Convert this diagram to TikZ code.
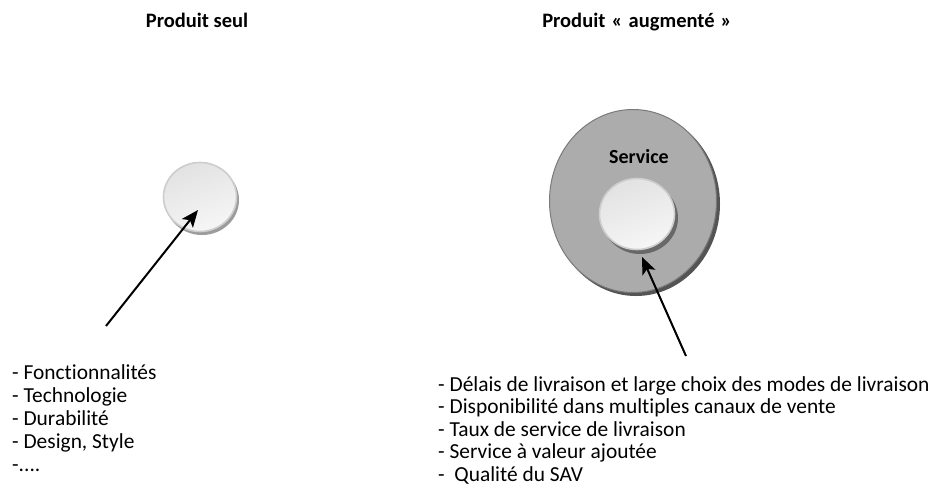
\documentclass[tikz,border=0pt]{standalone}
\usepackage{fontspec}
\setmainfont{Carlito}[Ligatures=NoCommon]
\usetikzlibrary{shapes.geometric,arrows.meta}
\definecolor{facetop}{HTML}{E2E2E2}
\definecolor{facebot}{HTML}{F6F6F6}
\definecolor{facerim}{HTML}{CDCDCD}
\definecolor{lightshadow}{HTML}{9C9C9C}
\definecolor{ringtop}{HTML}{ACACAC}
\definecolor{ringmid}{HTML}{8C8C8C}
\definecolor{ringbot}{HTML}{ABABAB}
\definecolor{ringrim}{HTML}{7A7A7A}
\definecolor{ringshadow}{HTML}{545454}
\definecolor{innershadow}{HTML}{686868}
\begin{document}
\begin{tikzpicture}[x=1pt,y=-1pt,
  heading/.style={font=\fontsize{20.5}{24}\selectfont\bfseries, inner sep=0pt, anchor=base},
  item/.style={font=\fontsize{21.4}{25}\selectfont, anchor=base west, inner sep=0pt},
  lightdisc/.style={ellipse, draw=facerim, line width=1.6pt, inner sep=0pt,
    top color=facetop, bottom color=facebot, shading angle=20},
  ringdisc/.style={ellipse, draw=ringrim, line width=1pt, inner sep=0pt,
    top color=ringtop, middle color=ringmid, bottom color=ringbot},
  pointer/.style={line width=2pt, -{Stealth[length=17pt,width=14pt,inset=4pt]}}]
\useasboundingbox (0,0) rectangle (931,496);

% headings
\node[heading] (h1) at (197,27) {Produit seul};
\node[heading] (h2) at (637,27) {Produit\hspace{0.3em}«\hspace{0.3em}augmenté\hspace{0.3em}»};

% bare product: a single light disc
\fill[lightshadow] (202,200) ellipse [x radius=37pt, y radius=35pt];
\node[lightdisc, minimum width=73pt, minimum height=69pt] (core) at (200,197) {};

% augmented product: service ring around the core
\fill[ringshadow] (636,204) ellipse [x radius=84pt, y radius=92pt];
\node[ringdisc, minimum width=167pt, minimum height=183pt] (ring) at (633,201) {};
\node[font=\fontsize{20}{24}\selectfont\bfseries, inner sep=0pt] (svc) at (639,157) {Service};
\fill[innershadow] (640,218) ellipse [x radius=38pt, y radius=36pt];
\node[lightdisc, minimum width=75pt, minimum height=71pt] (core2) at (637,214) {};

% pointers
\coordinate (tailA) at (106,326);
\coordinate (tipA) at (198,210);
\draw[pointer] (tailA) -- (tipA);
\coordinate (tailB) at (686,356);
\coordinate (tipB) at (642,257);
\draw[pointer] (tailB) -- (tipB);

% lists
\node[item] (l1) at (12,379) {- Fonctionnalités};
\node[item] (l2) at (12,402) {- Technologie};
\node[item] (l3) at (12,425) {- Durabilité};
\node[item] (l4) at (12,448) {- Design, Style};
\node[item] (l5) at (12,471) {-....};

\node[item] (r1) at (438,391) {- Délais de livraison et large choix des modes de livraison};
\node[item] (r2) at (438,413.5) {- Disponibilité dans multiples canaux de vente};
\node[item] (r3) at (438,436) {- Taux de service de livraison};
\node[item] (r4) at (438,458.5) {- Service à valeur ajoutée};
\node[item] (r5) at (438,481) {-\ \ Qualité du SAV};
\end{tikzpicture}
\end{document}
